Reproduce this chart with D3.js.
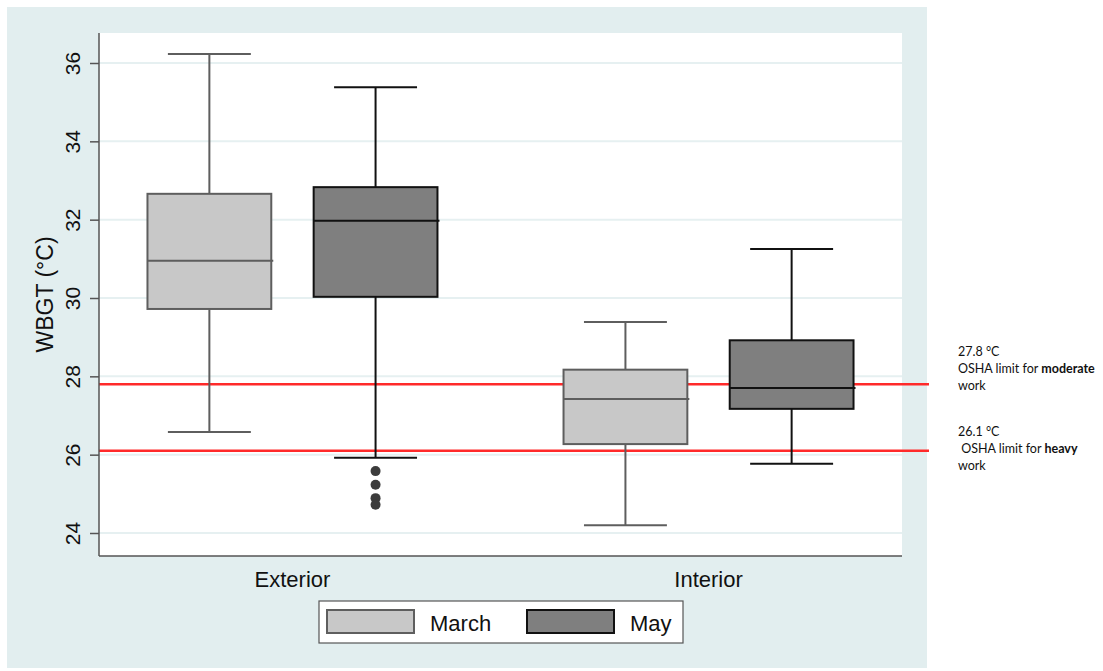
<!DOCTYPE html>
<html>
<head>
<meta charset="utf-8">
<script src="https://cdn.jsdelivr.net/npm/d3@7"></script>
<style>
  html, body { margin: 0; padding: 0; background: #ffffff; }
  svg { display: block; }
</style>
</head>
<body>
<svg id="chart" width="1103" height="671"></svg>
<script>
// ---------- data ----------
const categories = ["Exterior", "Interior"];
const series = ["March", "May"];
const yTicks = [24, 26, 28, 30, 32, 34, 36];

// March boxes (Exterior, Interior)
const marchLow  = [26.58, 24.20];
const marchQ1   = [29.72, 26.27];
const marchMed  = [30.95, 27.42];
const marchQ3   = [32.66, 28.17];
const marchHigh = [36.23, 29.39];

// May boxes (Exterior, Interior)
const mayLow  = [25.92, 25.77];
const mayQ1   = [30.03, 27.17];
const mayMed  = [31.97, 27.70];
const mayQ3   = [32.83, 28.92];
const mayHigh = [35.38, 31.25];

// outliers
const mayExteriorOutliers = [25.58, 25.23, 24.89, 24.72];
const marchInteriorOutliers = [];

// reference limits
const limitValues = [27.8, 26.1];
const limitLabels = [
  ["27.8 °C", ["OSHA limit for ", "moderate"], "work"],
  ["26.1 °C", [" OSHA limit for ", "heavy"], "work"]
];

// ---------- build ----------
const boxes = [];
categories.forEach((c, i) => {
  boxes.push({cat: c, ser: "March", low: marchLow[i], q1: marchQ1[i], med: marchMed[i], q3: marchQ3[i], high: marchHigh[i],
              out: i === 0 ? [] : marchInteriorOutliers});
  boxes.push({cat: c, ser: "May", low: mayLow[i], q1: mayQ1[i], med: mayMed[i], q3: mayQ3[i], high: mayHigh[i],
              out: i === 0 ? mayExteriorOutliers : []});
});

const style = {
  March: {fill: "#c8c8c8", stroke: "#5e5e5e"},
  May:   {fill: "#7f7f7f", stroke: "#111111"}
};

const svg = d3.select("#chart");
const plotL = 99, plotR = 902, plotT = 33, plotB = 556;

// outer background
svg.append("rect").attr("x", 7).attr("y", 7).attr("width", 920).attr("height", 661)
  .attr("fill", "#e2eeef");
// plot region
svg.append("rect").attr("x", plotL).attr("y", plotT).attr("width", plotR - plotL).attr("height", plotB - plotT)
  .attr("fill", "#ffffff");

const y = d3.scaleLinear().domain([24, 36]).range([533, 63]);
const x0 = d3.scaleBand().domain(categories).range([plotL, plotR]).paddingInner(0.303).paddingOuter(0.1165);
const x1 = d3.scaleBand().domain(series).range([0, x0.bandwidth()]).paddingInner(0.255).paddingOuter(0);

// gridlines
svg.append("g").selectAll("line").data(yTicks).join("line")
  .attr("x1", plotL).attr("x2", plotR)
  .attr("y1", d => y(d)).attr("y2", d => y(d))
  .attr("stroke", "#e6f0f1").attr("stroke-width", 2);

// limit lines
svg.append("g").selectAll("line").data(limitValues).join("line")
  .attr("x1", plotL).attr("x2", 929)
  .attr("y1", d => y(d)).attr("y2", d => y(d))
  .attr("stroke", "#ff2a2a").attr("stroke-width", 2.5);

// boxes
const bw = x1.bandwidth();
const capW = bw * 0.67;
const g = svg.append("g");
boxes.forEach(b => {
  const left = x0(b.cat) + x1(b.ser);
  const cx = left + bw / 2;
  const s = style[b.ser];
  const gg = g.append("g");
  // whiskers
  gg.append("line").attr("x1", cx).attr("x2", cx).attr("y1", y(b.q3)).attr("y2", y(b.high))
    .attr("stroke", s.stroke).attr("stroke-width", 2);
  gg.append("line").attr("x1", cx).attr("x2", cx).attr("y1", y(b.q1)).attr("y2", y(b.low))
    .attr("stroke", s.stroke).attr("stroke-width", 2);
  gg.append("line").attr("x1", cx - capW / 2).attr("x2", cx + capW / 2).attr("y1", y(b.high)).attr("y2", y(b.high))
    .attr("stroke", s.stroke).attr("stroke-width", 2);
  gg.append("line").attr("x1", cx - capW / 2).attr("x2", cx + capW / 2).attr("y1", y(b.low)).attr("y2", y(b.low))
    .attr("stroke", s.stroke).attr("stroke-width", 2);
  // box
  gg.append("rect").attr("x", left).attr("y", y(b.q3)).attr("width", bw).attr("height", y(b.q1) - y(b.q3))
    .attr("fill", s.fill).attr("stroke", s.stroke).attr("stroke-width", 2);
  // median
  gg.append("line").attr("x1", left).attr("x2", left + bw + 2).attr("y1", y(b.med)).attr("y2", y(b.med))
    .attr("stroke", s.stroke).attr("stroke-width", 2);
  // outliers
  gg.selectAll("circle").data(b.out).join("circle")
    .attr("cx", cx).attr("cy", d => y(d)).attr("r", 5)
    .attr("fill", "#3c3c3c");
});

// y axis
const yAxis = svg.append("g").attr("transform", `translate(${plotL},0)`)
  .call(d3.axisLeft(y).tickValues(yTicks).tickSize(9).tickSizeOuter(0).tickFormat(d3.format("d")));
yAxis.select(".domain").remove();
yAxis.append("line").attr("x1", 0).attr("x2", 0).attr("y1", plotT).attr("y2", plotB)
  .attr("stroke", "#555555").attr("stroke-width", 1.5);
yAxis.selectAll(".tick line").attr("stroke", "#555555").attr("stroke-width", 1.5);
yAxis.selectAll(".tick text")
  .attr("x", 0).attr("y", -19).attr("dy", 0)
  .attr("transform", "rotate(-90)")
  .attr("text-anchor", "middle")
  .attr("fill", "#111")
  .style("font-family", "'Liberation Sans', Arial, sans-serif")
  .style("font-size", "21px");

// x axis line
svg.append("line").attr("x1", plotL).attr("x2", plotR).attr("y1", plotB).attr("y2", plotB)
  .attr("stroke", "#555555").attr("stroke-width", 1.5);

// x labels
svg.append("g").selectAll("text").data(categories).join("text")
  .attr("x", d => x0(d) + x0.bandwidth() / 2).attr("y", 587)
  .attr("text-anchor", "middle")
  .attr("fill", "#111")
  .style("font-family", "'Liberation Sans', Arial, sans-serif")
  .style("font-size", "22px")
  .text(d => d);

// y title
svg.append("text")
  .attr("transform", `translate(53,${(plotT + plotB) / 2}) rotate(-90)`)
  .attr("text-anchor", "middle")
  .attr("fill", "#111")
  .style("font-family", "'Liberation Sans', Arial, sans-serif")
  .style("font-size", "23px")
  .text("WBGT (°C)");

// legend
const lg = svg.append("g");
lg.append("rect").attr("x", 319).attr("y", 601).attr("width", 364).attr("height", 42)
  .attr("fill", "#ffffff").attr("stroke", "#555555").attr("stroke-width", 1.2);
const legX = [327, 527];
series.forEach((s, i) => {
  lg.append("rect").attr("x", legX[i]).attr("y", 610).attr("width", 87).attr("height", 23)
    .attr("fill", style[s].fill).attr("stroke", style[s].stroke).attr("stroke-width", 2);
  lg.append("text").attr("x", legX[i] + 103).attr("y", 631)
    .attr("fill", "#111")
    .style("font-family", "'Liberation Sans', Arial, sans-serif")
    .style("font-size", "22px")
    .text(s);
});

// annotations
const annBase = [356, 436];
limitLabels.forEach((lab, i) => {
  const t = svg.append("text")
    .attr("x", 958).attr("y", annBase[i])
    .attr("fill", "#111")
    .style("font-family", "Lato, 'Open Sans', sans-serif")
    .style("font-size", "12.5px")
    .style("white-space", "pre");
  t.append("tspan").attr("x", 958).attr("dy", 0).text(lab[0]);
  const t2 = t.append("tspan").attr("x", 958).attr("dy", 17);
  t2.append("tspan").text(lab[1][0]);
  t2.append("tspan").style("font-weight", "bold").text(lab[1][1]);
  t.append("tspan").attr("x", 958).attr("dy", 17).text(lab[2]);
});
</script>
</body>
</html>
